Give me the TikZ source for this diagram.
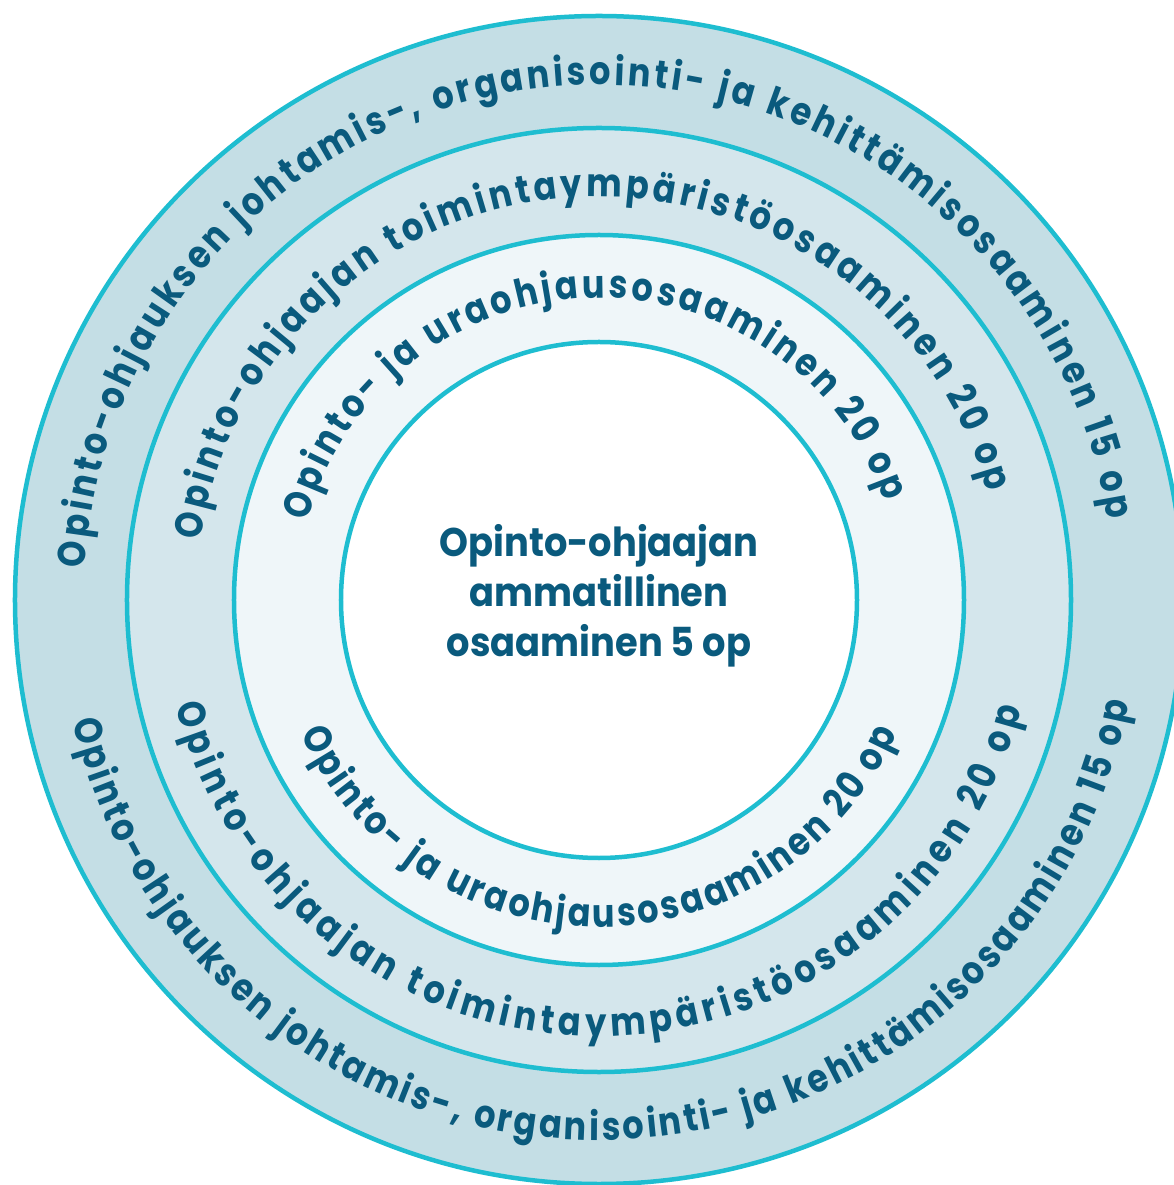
\documentclass[tikz,border=0pt]{standalone}
\usepackage{fontspec}
\setmainfont{Poppins}
\newfontfamily\ringfam{Poppins}[FakeStretch=0.86]
\newfontfamily\midfam{Poppins}[FakeStretch=0.92]
\usetikzlibrary{decorations.text}
\definecolor{ringA}{HTML}{C4DEE5}
\definecolor{ringB}{HTML}{D4E6EC}
\definecolor{ringC}{HTML}{EFF6F9}
\definecolor{edge}{HTML}{1EBDD0}
\definecolor{ink}{HTML}{0A5A7D}
\newcommand\ringfont{\ringfam\bfseries\fontsize{39}{39}\selectfont}
\newcommand\midfont{\midfam\bfseries\fontsize{40}{40}\selectfont}
\begin{document}
\begin{tikzpicture}[x=1pt,y=1pt,
  ring/.style={draw=edge, line width=4.5pt},
  arctext/.style={decorate, decoration={text along path, text align={fit to path}, text color=ink, text={|\ringfont|#1}}},
  centertext/.style={anchor=base, text=ink, font=\midfont, inner sep=0pt}
  ]
\useasboundingbox (-599,-585) rectangle (575,600);
\fill[white] (-599,-585) rectangle (575,600);
\draw[ring, fill=ringA] (0,0) circle[radius=584];
\draw[ring, fill=ringB] (0,0) circle[radius=472];
\draw[ring, fill=ringC] (0,0) circle[radius=365];
\draw[ring, fill=white] (0,0) circle[radius=258];
% outer ring
\path[arctext={Opinto-ohjauksen johtamis-, organisointi- ja kehittämisosaaminen 15 op}]
  (176.5:515) arc[start angle=176.5, end angle=9, radius=515];
\path[arctext={Opinto-ohjauksen johtamis-, organisointi- ja kehittämisosaaminen 15 op}]
  (193:540) arc[start angle=193, end angle=349, radius=540];
% second ring
\path[arctext={Opinto-ohjaajan toimintaympäristöosaaminen 20 op}]
  (171.5:403) arc[start angle=171.5, end angle=15.5, radius=403];
\path[arctext={Opinto-ohjaajan toimintaympäristöosaaminen 20 op}]
  (194:436) arc[start angle=194, end angle=345.5, radius=436];
% third ring
\path[arctext={Opinto- ja uraohjausosaaminen 20 op}]
  (165:302) arc[start angle=165, end angle=19, radius=302];
\path[arctext={Opinto- ja uraohjausosaaminen 20 op}]
  (204:327) arc[start angle=204, end angle=336, radius=327];
% centre
\node[centertext] (c1) at (0,43) {Opinto-ohjaajan};
\node[centertext] (c2) at (0,-7) {ammatillinen};
\node[centertext] (c3) at (0,-57) {osaaminen 5 op};
\end{tikzpicture}
\end{document}
